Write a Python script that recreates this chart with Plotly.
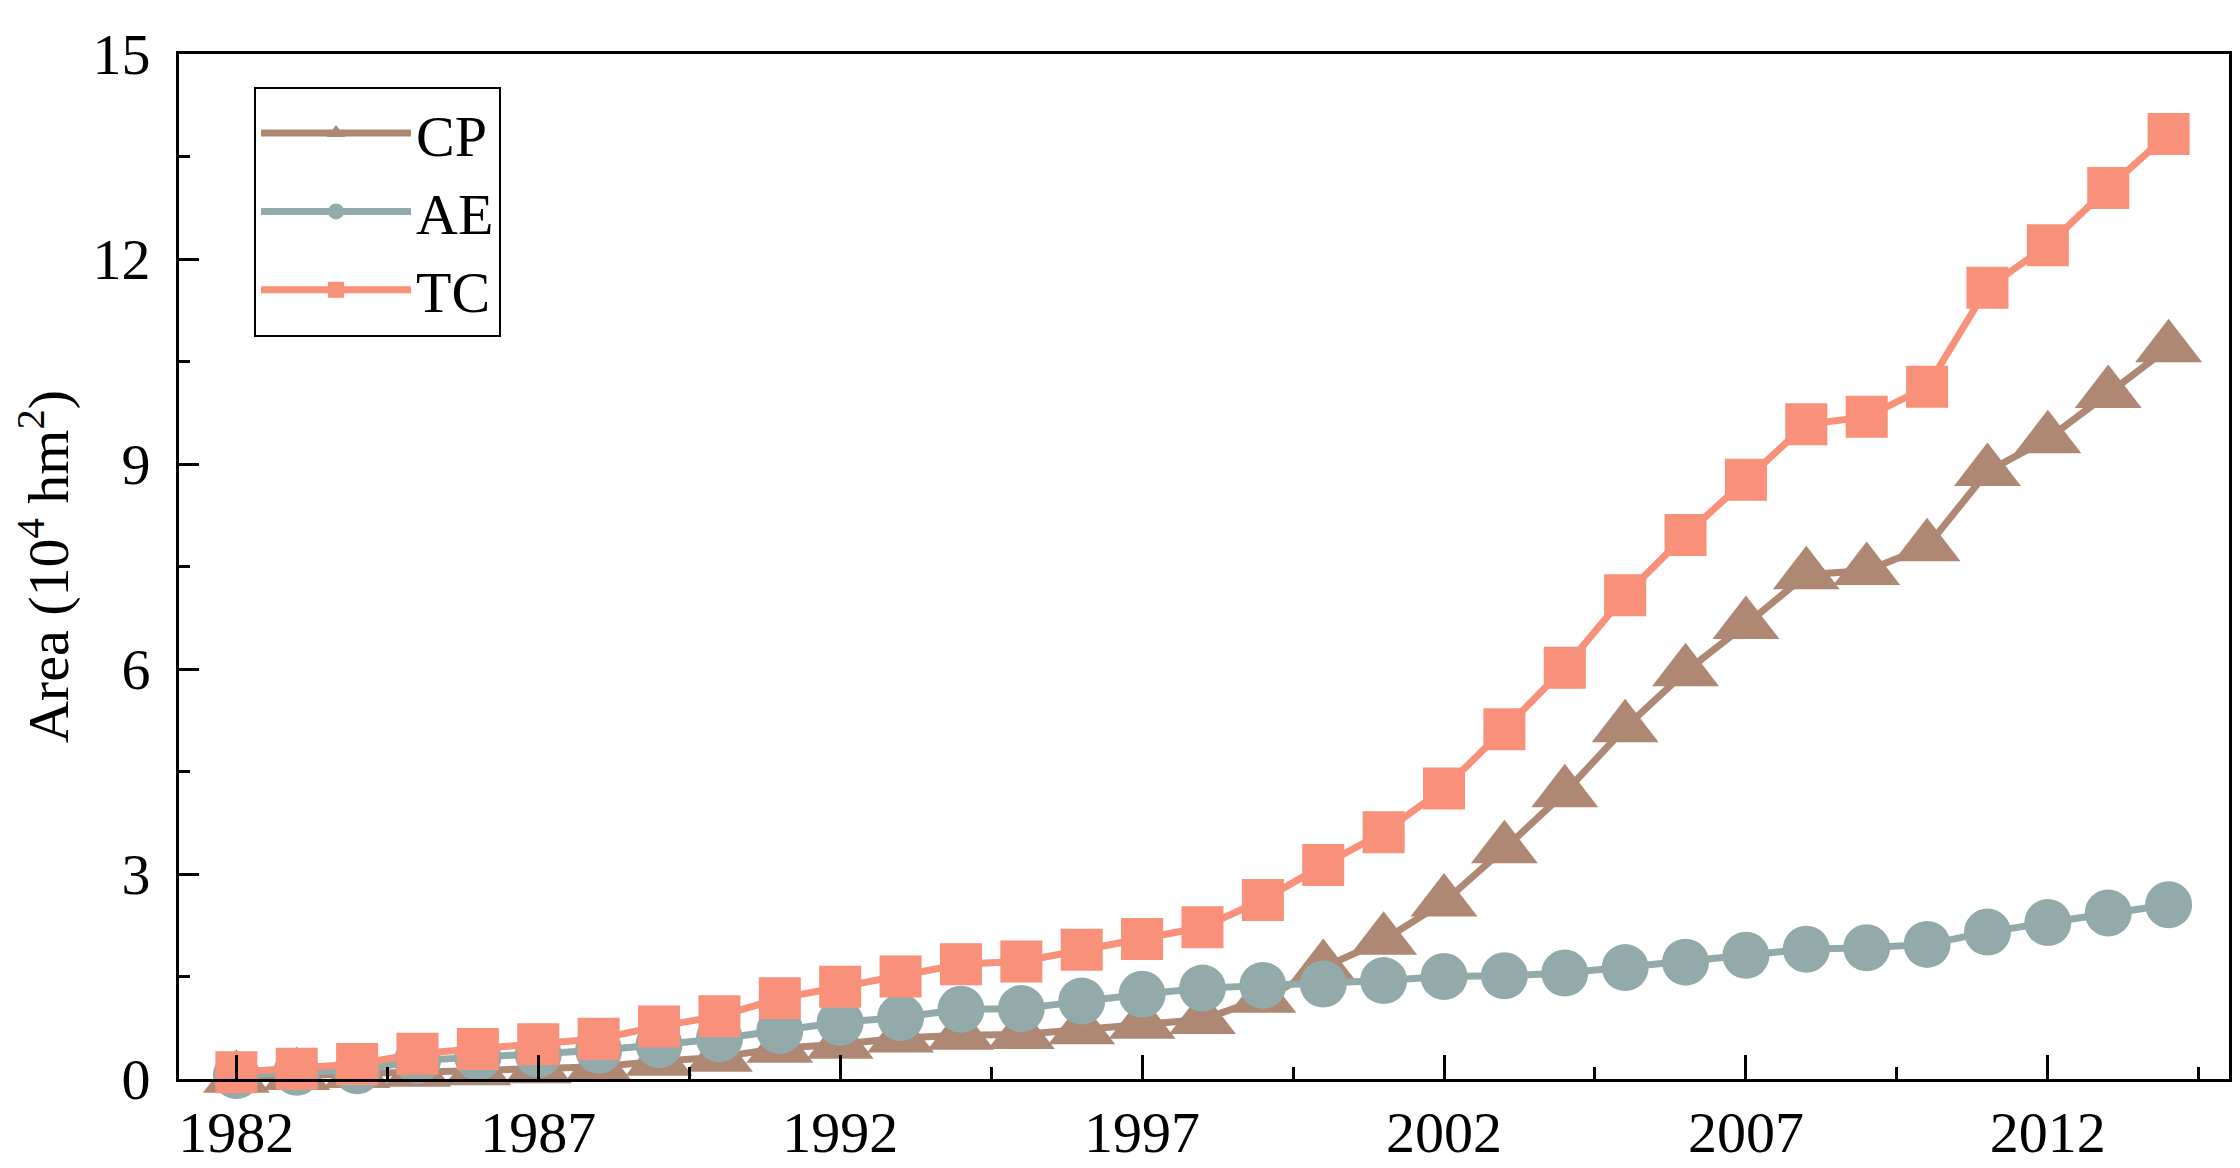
import plotly.graph_objects as go

years = list(range(1982, 2015))

cp = [0.01, 0.05, 0.08, 0.10, 0.12, 0.15, 0.18, 0.26, 0.32, 0.45,
      0.51, 0.60, 0.64, 0.65, 0.72, 0.80, 0.87, 1.18, 1.63, 2.03,
      2.59, 3.37, 4.19, 5.14, 5.96, 6.65, 7.38, 7.44, 7.79, 8.89,
      9.37, 10.03, 10.70]

ae = [0.05, 0.10, 0.12, 0.27, 0.32, 0.36, 0.42, 0.50, 0.59, 0.71,
      0.83, 0.90, 1.02, 1.03, 1.14, 1.24, 1.33, 1.37, 1.39, 1.44,
      1.50, 1.51, 1.55, 1.63, 1.71, 1.81, 1.90, 1.92, 1.97, 2.15,
      2.29, 2.43, 2.55]

tc = [0.10, 0.15, 0.22, 0.37, 0.44, 0.51, 0.59, 0.77, 0.92, 1.18,
      1.35, 1.50, 1.68, 1.72, 1.89, 2.05, 2.22, 2.62, 3.13, 3.61,
      4.25, 5.12, 6.02, 7.08, 7.96, 8.77, 9.58, 9.69, 10.13, 11.58,
      12.20, 13.04, 13.83]

series_names = ["CP", "AE", "TC"]
x_tick_vals = [1982, 1987, 1992, 1997, 2002, 2007, 2012]
y_tick_vals = [0, 3, 6, 9, 12, 15]

colors = {"CP": "#AF8874", "AE": "#93AAAA", "TC": "#F99079"}
symbols = {"CP": "triangle-up", "AE": "circle", "TC": "square"}
sizes = {"CP": 58, "AE": 47, "TC": 42}
data = {"CP": cp, "AE": ae, "TC": tc}

FONT = "Liberation Serif, Times New Roman, serif"

fig = go.Figure()
for name in series_names:
    fig.add_trace(go.Scatter(
        x=years, y=data[name], name=name, mode="lines+markers",
        line=dict(color=colors[name], width=7),
        marker=dict(symbol=symbols[name], size=sizes[name], color=colors[name],
                    line=dict(width=0)),
        cliponaxis=False,
    ))

axis_common = dict(
    showline=True, linecolor="black", linewidth=3, mirror=True,
    ticks="inside", tickcolor="black", tickwidth=3,
    showgrid=False, zeroline=False,
    tickfont=dict(family=FONT, size=58, color="black"),
)

fig.update_xaxes(
    range=[1981.05, 2015], tickmode="array", tickvals=x_tick_vals,
    ticklen=24, ticklabelstandoff=0,
    minor=dict(ticks="inside", ticklen=12, tickwidth=3, tickcolor="black",
               dtick=2.5, tick0=1982, showgrid=False),
    **axis_common,
)
fig.update_yaxes(
    range=[0, 15], tickmode="array", tickvals=y_tick_vals,
    ticklen=20, ticklabelstandoff=14,
    minor=dict(ticks="inside", ticklen=11, tickwidth=3, tickcolor="black",
               dtick=1.5, tick0=0, showgrid=False),
    title=dict(text="Area (10<sup>4</sup> hm<sup>2</sup>)",
               font=dict(family=FONT, size=58, color="black"), standoff=10),
    **axis_common,
)

fig.update_layout(
    width=2240, height=1168,
    margin=dict(l=171, r=19, t=46, b=97, autoexpand=False),
    paper_bgcolor="white", plot_bgcolor="white",
    showlegend=True,
    legend=dict(
        x=0.0366, y=0.968, xanchor="left", yanchor="top",
        bgcolor="white", bordercolor="black", borderwidth=2,
        font=dict(family=FONT, size=58, color="black"),
        itemwidth=150, tracegroupgap=0,
    ),
)

fig.write_html("out.html")
